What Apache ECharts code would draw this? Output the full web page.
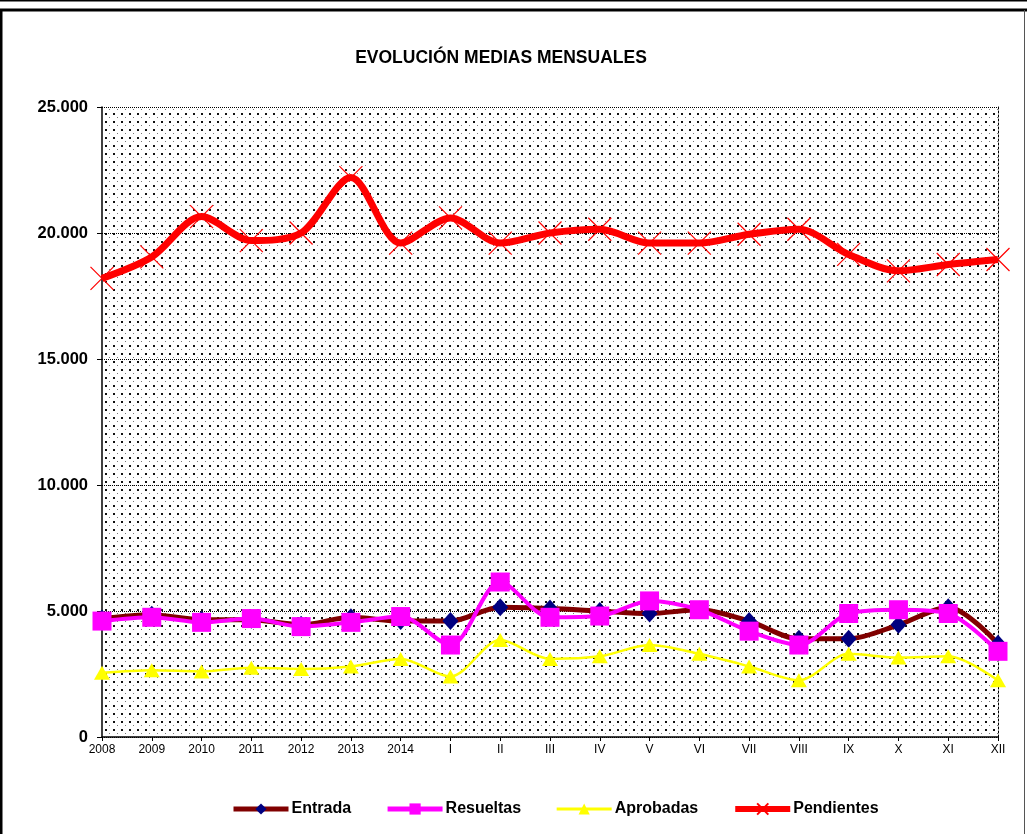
<!DOCTYPE html>
<html>
<head>
<meta charset="utf-8">
<script src="https://cdn.jsdelivr.net/npm/echarts@6/dist/echarts.min.js"></script>
<style>
  html, body { margin: 0; padding: 0; background: #fff; }
  #chart { width: 1027px; height: 834px; }
</style>
</head>
<body>
<div id="chart"></div>
<script>
// datos
const categories = ['2008', '2009', '2010', '2011', '2012', '2013', '2014', 'I', 'II', 'III', 'IV', 'V', 'VI', 'VII', 'VIII', 'IX', 'X', 'XI', 'XII'];
const entrada = [4700, 4850, 4650, 4650, 4450, 4750, 4600, 4600, 5150, 5100, 5000, 4900, 5050, 4600, 3900, 3900, 4450, 5150, 3700];
const resueltas = [4600, 4750, 4550, 4700, 4380, 4550, 4780, 3650, 6150, 4750, 4800, 5400, 5050, 4200, 3650, 4900, 5050, 4900, 3400];
const aprobadas = [2550, 2650, 2600, 2750, 2700, 2800, 3100, 2400, 3850, 3100, 3200, 3650, 3300, 2800, 2250, 3300, 3150, 3200, 2250];
const pendientes = [18200, 19050, 20650, 19700, 20000, 22200, 19600, 20600, 19600, 20000, 20150, 19600, 19600, 19950, 20150, 19150, 18500, 18750, 18950];
const yTicks = [0, 5000, 10000, 15000, 20000, 25000];

// fondo punteado (trama de excel)
function dotPattern() {
    const c = document.createElement('canvas');
    c.width = 8; c.height = 8;
    const ctx = c.getContext('2d');
    ctx.fillStyle = '#fff';
    ctx.fillRect(0, 0, 8, 8);
    ctx.fillStyle = '#111';
    ctx.fillRect(1, 1, 2, 2);
    ctx.fillStyle = '#777';
    ctx.fillRect(5, 5, 1, 1);
    return c;
}

function fmt(v) {
    return String(v).replace(/\B(?=(\d{3})+(?!\d))/g, '.');
}

const chart = echarts.init(document.getElementById('chart'));

const option = {
    backgroundColor: '#fff',
    animation: false,
    textStyle: { fontFamily: 'Liberation Sans, Arial, sans-serif' },
    title: {
        text: 'EVOLUCIÓN MEDIAS MENSUALES',
        left: 496,
        textAlign: 'center',
        top: 44,
        textStyle: { fontSize: 17.5, fontWeight: 'bold', color: '#000' }
    },
    graphic: [
        { type: 'line', shape: { x1: 0, y1: 0.5, x2: 1027, y2: 0.5 }, style: { stroke: '#000', lineWidth: 2 } },
        { type: 'line', shape: { x1: 0, y1: 10, x2: 1027, y2: 10 }, style: { stroke: '#000', lineWidth: 3 } },
        { type: 'line', shape: { x1: 1, y1: 10, x2: 1, y2: 834 }, style: { stroke: '#000', lineWidth: 3 } },
        { type: 'line', shape: { x1: 1024.5, y1: 10, x2: 1024.5, y2: 834 }, style: { stroke: '#555', lineWidth: 1 } }
    ],
    legend: {
        bottom: 12,
        left: 226,
        itemGap: 34,
        itemWidth: 55,
        itemHeight: 14,
        textStyle: { fontSize: 16, fontWeight: 'bold', color: '#000', padding: [0, 0, 0, -2] },
        data: [
            { name: 'Entrada', lineStyle: { width: 5 } },
            { name: 'Resueltas', lineStyle: { width: 5 } },
            { name: 'Aprobadas', lineStyle: { width: 3 } },
            { name: 'Pendientes', lineStyle: { width: 6 } }
        ]
    },
    grid: {
        left: 102,
        right: 29,
        top: 107,
        bottom: 97,
        show: true,
        borderWidth: 0,
        backgroundColor: { image: dotPattern(), repeat: 'repeat' }
    },
    xAxis: {
        type: 'category',
        data: categories,
        boundaryGap: false,
        axisLine: { lineStyle: { color: '#000', width: 1.5 } },
        axisTick: { show: true, alignWithLabel: true, length: 4, lineStyle: { color: '#000' } },
        axisLabel: { color: '#000', fontSize: 12, margin: 7, interval: 0 }
    },
    yAxis: [{
        type: 'value',
        min: 0,
        max: 25000,
        interval: 5000,
        axisLine: { show: true, lineStyle: { color: '#000', width: 1.5 } },
        axisTick: { show: true, length: 5, lineStyle: { color: '#000' } },
        axisLabel: {
            color: '#000', fontSize: 16.5, fontWeight: 'bold', margin: 14,
            formatter: v => yTicks.includes(v) ? fmt(v) : ''
        },
        splitLine: { show: true, lineStyle: { color: '#000', type: [1, 1], width: 1 } }
    }, {
        type: 'value',
        position: 'right',
        min: 0,
        max: 25000,
        interval: 5000,
        axisLine: { show: true, lineStyle: { color: '#000', type: [2, 2], width: 1 } },
        axisTick: { show: false },
        axisLabel: { show: false },
        splitLine: { show: false }
    }],
    series: [
        {
            name: 'Entrada',
            type: 'line',
            data: entrada,
            smooth: 0.3,
            symbol: 'diamond',
            symbolSize: [16, 18],
            lineStyle: { color: '#800000', width: 5 },
            itemStyle: { color: '#000080' },
            z: 2
        },
        {
            name: 'Resueltas',
            type: 'line',
            data: resueltas,
            smooth: 0.3,
            symbol: 'rect',
            symbolSize: 19,
            lineStyle: { color: '#FF00FF', width: 4 },
            itemStyle: { color: '#FF00FF' },
            z: 3
        },
        {
            name: 'Aprobadas',
            type: 'line',
            data: aprobadas,
            smooth: 0.3,
            symbol: 'triangle',
            symbolSize: [16, 14],
            lineStyle: { color: '#FFFF00', width: 2.5 },
            itemStyle: { color: '#FFFF00' },
            z: 4
        },
        {
            name: 'Pendientes',
            type: 'line',
            data: pendientes,
            smooth: 0.3,
            symbol: 'path://M0,0L10,10M10,0L0,10',
            symbolSize: 23,
            lineStyle: { color: '#FF0000', width: 7 },
            itemStyle: { color: 'rgba(0,0,0,0)', borderColor: '#FF0000', borderWidth: 1.2 },
            z: 5
        }
    ]
};

chart.setOption(option);
</script>
</body>
</html>
